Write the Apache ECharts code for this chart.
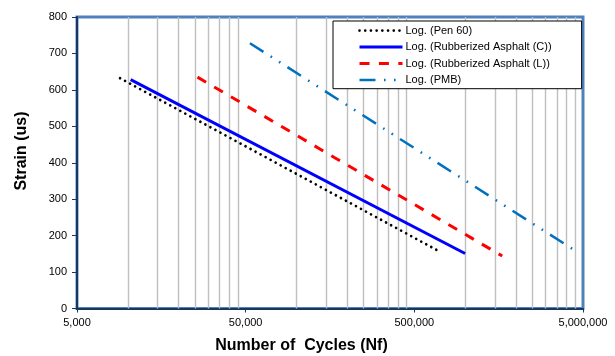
<!DOCTYPE html>
<html>
<head>
<meta charset="utf-8">
<style>
  html, body { margin: 0; padding: 0; background: #ffffff; }
  #chart { width: 615px; height: 356px; }
</style>
<script src="https://cdn.jsdelivr.net/npm/echarts@6/dist/echarts.min.js"></script>
</head>
<body>
<div id="chart"></div>
<script>
// ---- data (trendline end points) ----
const seriesNames = ['Log. (Pen 60)', 'Log. (Rubberized Asphalt (C))', 'Log. (Rubberized Asphalt (L))', 'Log. (PMB)'];
const pen60Cycles = [9000, 708000];
const pen60Strain = [632, 156];
const rubberCCycles = [10400, 1000000];
const rubberCStrain = [628, 151];
const rubberLCycles = [25900, 1660000];
const rubberLStrain = [635, 144];
const pmbCycles = [53000, 4520000];
const pmbStrain = [728, 158];

// axis ticks
const xTickLabels = ['5,000', '50,000', '500,000', '5,000,000'];
const gridCycles = [10000, 15000, 20000, 25000, 30000, 35000, 40000, 45000,
                    100000, 150000, 200000, 250000, 300000, 350000, 400000, 450000,
                    1000000, 1500000, 2000000, 2500000, 3000000, 3500000, 4000000, 4500000];

function pairs(xs, ys) { return xs.map((x, i) => [x, ys[i]]); }

const FONT = '"Liberation Sans", Arial, sans-serif';
const chart = echarts.init(document.getElementById('chart'), null, { renderer: 'canvas' });

const option = {
  animation: false,
  backgroundColor: '#ffffff',
  grid: {
    left: 77, right: 32, top: 17, bottom: 47.5,
    show: true, borderColor: '#4F81BD', borderWidth: 3, backgroundColor: 'transparent'
  },
  xAxis: [
    {
      type: 'log', logBase: 10, min: 5000, max: 5000000,
      axisLine: { show: true, onZero: false, lineStyle: { color: '#17375E', width: 2 } },
      axisTick: { show: false }, axisLabel: { show: false },
      splitLine: { show: false }, minorTick: { show: false }, minorSplitLine: { show: false }
    },
    {
      type: 'value', min: 0, max: 3, interval: 1, position: 'bottom',
      axisLine: { show: false },
      axisTick: { show: true, length: 4, lineStyle: { color: '#17375E', width: 1 } },
      axisLabel: { show: true, margin: 9, color: '#000', fontSize: 11, fontFamily: FONT,
                   formatter: v => xTickLabels[Math.round(v)] },
      splitLine: { show: false }
    }
  ],
  yAxis: {
    type: 'value', min: 0, max: 800, interval: 100,
    axisLine: { show: true, lineStyle: { color: '#17375E', width: 2 } },
    axisTick: { show: true, length: 5, lineStyle: { color: '#17375E', width: 1 } },
    axisLabel: { margin: 10, color: '#000', fontSize: 11, fontFamily: FONT },
    splitLine: { show: false }
  },
  legend: {
    data: seriesNames,
    orient: 'vertical',
    left: 333, top: 21,
    padding: [4, 30, 3, 25],
    itemWidth: 43, itemHeight: 14, itemGap: 5.3,
    backgroundColor: '#ffffff',
    borderColor: '#000000', borderWidth: 1,
    textStyle: { color: '#000', fontSize: 11, fontFamily: FONT, padding: [0, 0, 0, -2] },
    itemStyle: { color: 'rgba(0,0,0,0)', borderWidth: 0, opacity: 0 },
    lineStyle: { width: 'inherit' }
  },
  graphic: [
    { type: 'text', x: 301.5, y: 345.5, silent: true,
      style: { text: 'Number of  Cycles (Nf)', align: 'center', verticalAlign: 'middle',
               font: 'bold 16px ' + FONT, fill: '#000' } },
    { type: 'text', x: 21.5, y: 151, rotation: Math.PI / 2, silent: true,
      style: { text: 'Strain (us)', align: 'center', verticalAlign: 'middle',
               font: 'bold 16px ' + FONT, fill: '#000' } }
  ],
  series: [
    {
      name: seriesNames[0], type: 'line', xAxisIndex: 0, z: 3,
      data: pairs(pen60Cycles, pen60Strain), symbol: 'none',
      lineStyle: { color: '#000000', width: 2.7, type: [0.01, 5.7], cap: 'round' },
      itemStyle: { color: '#000000' },
      markLine: {
        silent: true, z: 1, symbol: ['none', 'none'], label: { show: false },
        lineStyle: { type: 'solid', color: '#BFBFBF', width: 1.4 },
        emphasis: { disabled: true },
        data: gridCycles.map(v => ({ xAxis: v }))
      }
    },
    {
      name: seriesNames[1], type: 'line', xAxisIndex: 0, z: 3,
      data: pairs(rubberCCycles, rubberCStrain), symbol: 'none',
      lineStyle: { color: '#0000FF', width: 3, type: 'solid' },
      itemStyle: { color: '#0000FF' }
    },
    {
      name: seriesNames[2], type: 'line', xAxisIndex: 0, z: 3,
      data: pairs(rubberLCycles, rubberLStrain), symbol: 'none',
      lineStyle: { color: '#FF0000', width: 3, type: [10, 9.4], cap: 'butt' },
      itemStyle: { color: '#FF0000' }
    },
    {
      name: seriesNames[3], type: 'line', xAxisIndex: 0, z: 3,
      data: pairs(pmbCycles, pmbStrain), symbol: 'none',
      lineStyle: { color: '#0070C0', width: 2.5, type: [16, 8.5, 1.6, 8.4, 1.6, 8.4], cap: 'butt' },
      itemStyle: { color: '#0070C0' }
    }
  ]
};
chart.setOption(option);
</script>
</body>
</html>
